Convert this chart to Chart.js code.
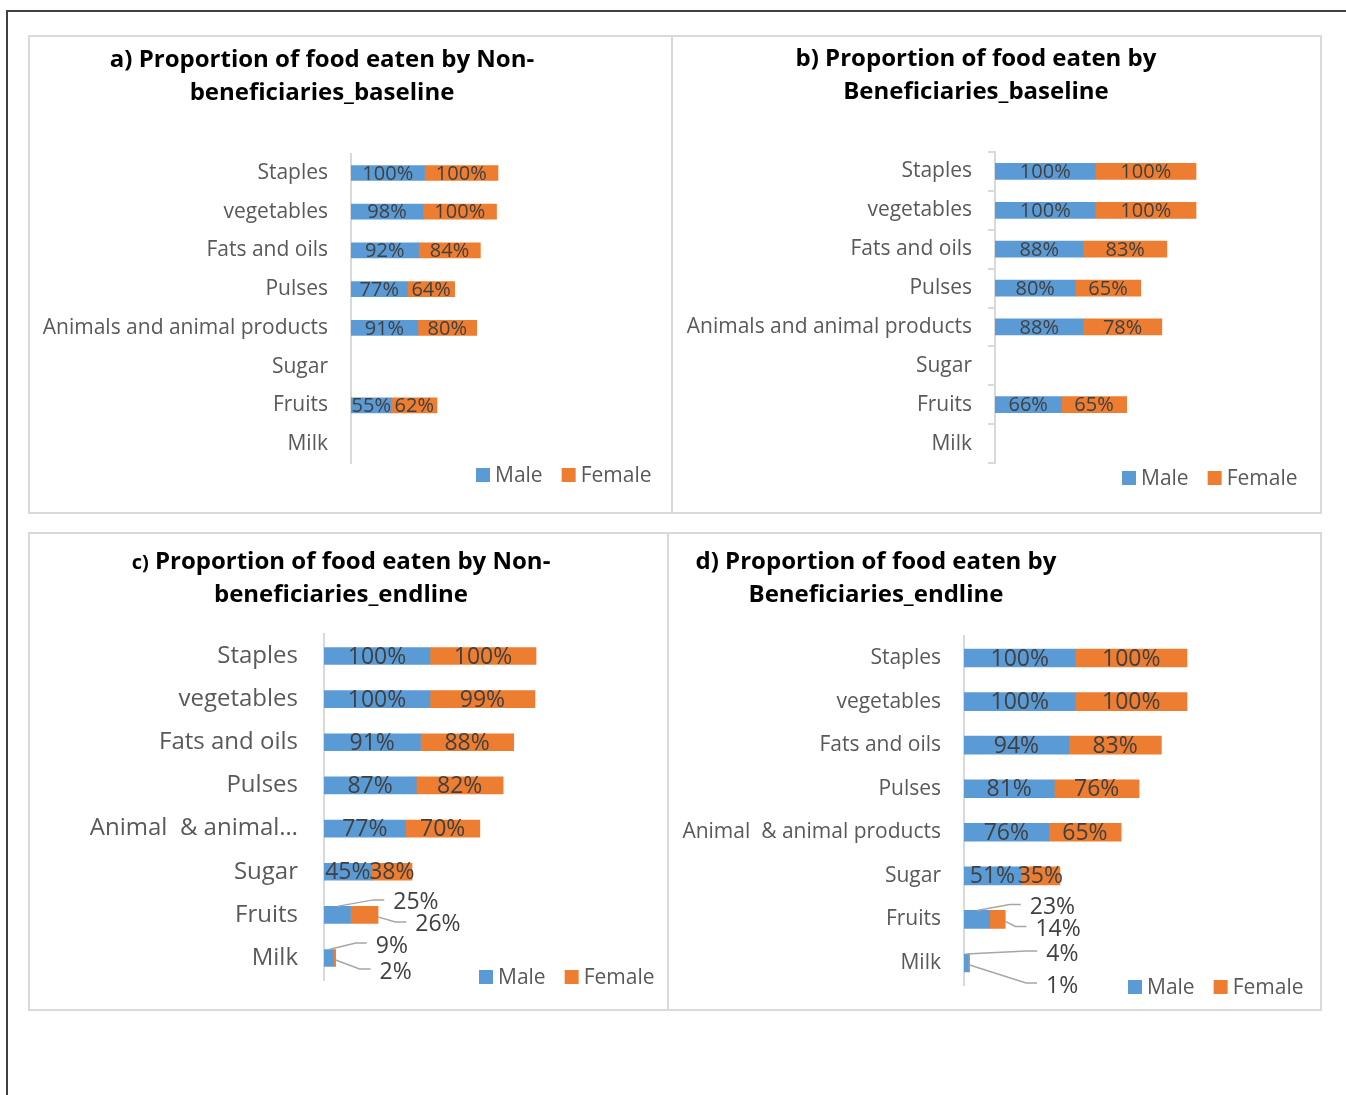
<!DOCTYPE html>
<html>
<head>
<meta charset="utf-8">
<script src="https://cdn.jsdelivr.net/npm/chart.js@4.4.0/dist/chart.umd.min.js"></script>
<style>
    body { margin: 0; background: #fff; font-family: 'Open Sans', sans-serif; }
    #page { position: relative; width: 1346px; height: 1095px; overflow: hidden; }
    .frame-top { position: absolute; left: 6px; top: 10px; width: 1340px; height: 2px; background: #404040; }
    .frame-left { position: absolute; left: 6px; top: 10px; width: 2px; height: 1085px; background: #404040; }
    .panel { position: absolute; border: 2px solid #d9d9d9; box-sizing: border-box; }
    canvas { position: absolute; }
    .title { position: absolute; font-weight: 700; font-size: 24px; line-height: 33px; color: #000;
             text-align: center; white-space: nowrap; transform: translateX(-50%); }
    .small { font-size: 20px; line-height: 0; }
</style>
</head>
<body>
<div id="page">
    <div class="frame-top"></div>
    <div class="frame-left"></div>

    <div class="panel" style="left:28px;top:35px;width:645px;height:479px"></div>
    <div class="panel" style="left:671px;top:35px;width:651px;height:479px"></div>
    <div class="panel" style="left:28px;top:532px;width:641px;height:479px"></div>
    <div class="panel" style="left:667px;top:532px;width:655px;height:479px"></div>

    <canvas id="chartA" width="641" height="475" style="left:30px;top:37px"></canvas>
    <canvas id="chartB" width="647" height="475" style="left:673px;top:37px"></canvas>
    <canvas id="chartC" width="637" height="475" style="left:30px;top:534px"></canvas>
    <canvas id="chartD" width="651" height="475" style="left:669px;top:534px"></canvas>

    <div class="title" style="left:322px;top:41px">a) Proportion of food eaten by Non-<br>beneficiaries_baseline</div>
    <div class="title" style="left:976px;top:40px">b) Proportion of food eaten by<br>Beneficiaries_baseline</div>
    <div class="title" style="left:341px;top:543px"><span class="small">c)</span> Proportion of food eaten by Non-<br>beneficiaries_endline</div>
    <div class="title" style="left:876px;top:543px">d) Proportion of food eaten by<br>Beneficiaries_endline</div>
</div>

<script>
    const categoriesAB = ['Staples', 'vegetables', 'Fats and oils', 'Pulses', 'Animals and animal products', 'Sugar', 'Fruits', 'Milk'];
    const categoriesC = ['Staples', 'vegetables', 'Fats and oils', 'Pulses', 'Animal  & animal\u2026', 'Sugar', 'Fruits', 'Milk'];
    const categoriesD = ['Staples', 'vegetables', 'Fats and oils', 'Pulses', 'Animal  & animal products', 'Sugar', 'Fruits', 'Milk'];

    const maleA = [100, 98, 92, 77, 91, null, 55, null];
    const femaleA = [100, 100, 84, 64, 80, null, 62, null];

    const maleB = [100, 100, 88, 80, 88, null, 66, null];
    const femaleB = [100, 100, 83, 65, 78, null, 65, null];

    const maleC = [100, 100, 91, 87, 77, 45, 25, 9];
    const femaleC = [100, 99, 88, 82, 70, 38, 26, 2];

    const maleD = [100, 100, 94, 81, 76, 51, 23, 4];
    const femaleD = [100, 100, 83, 76, 65, 35, 14, 1];

    const seriesNames = ['Male', 'Female'];
    const seriesColors = ['#5b9bd5', '#ed7d31'];

    // labels for the small bars sit outside with a leader line
    const calloutsC = [
        { ds: 0, i: 6, dx: 56, dy: -13 },
        { ds: 1, i: 6, dx: 51, dy: 9 },
        { ds: 0, i: 7, dx: 47, dy: -13 },
        { ds: 1, i: 7, dx: 45, dy: 13 }
    ];
    const calloutsD = [
        { ds: 0, i: 6, dx: 53, dy: -13 },
        { ds: 1, i: 6, dx: 38, dy: 9 },
        { ds: 0, i: 7, dx: 80, dy: -10 },
        { ds: 1, i: 7, dx: 77, dy: 22 }
    ];

    const barLabels = {
        id: 'barLabels',
        afterDatasetsDraw: function(chart, args, opts) {
            const ctx = chart.ctx;
            ctx.save();
            ctx.font = opts.size + 'px "Open Sans"';
            ctx.fillStyle = '#404040';
            ctx.textBaseline = 'middle';
            chart.data.datasets.forEach(function(ds, d) {
                chart.getDatasetMeta(d).data.forEach(function(el, i) {
                    const v = ds.data[i];
                    if (v === null || v === undefined) return;
                    const cx = (el.x + el.base) / 2;
                    const call = (opts.callouts || []).find(function(c) { return c.ds === d && c.i === i; });
                    if (!call) {
                        ctx.textAlign = 'center';
                        ctx.fillText(v + '%', cx, el.y + 1);
                        return;
                    }
                    const lx = cx + call.dx;
                    const ly = el.y + call.dy;
                    let sx, sy;
                    if (call.dy < 0) {
                        sx = cx; sy = el.y - el.height / 2;
                    } else {
                        sx = el.x; sy = el.y + 2;
                    }
                    ctx.strokeStyle = '#a6a6a6';
                    ctx.lineWidth = 1.5;
                    ctx.beginPath();
                    ctx.moveTo(sx, sy);
                    ctx.lineTo(lx - 20, ly - 2);
                    ctx.lineTo(lx - 9, ly - 2);
                    ctx.stroke();
                    ctx.textAlign = 'left';
                    ctx.fillText(v + '%', lx, ly + 1);
                });
            });
            ctx.restore();
        }
    };

    const boxLegend = {
        id: 'boxLegend',
        afterDraw: function(chart, args, opts) {
            const ctx = chart.ctx;
            ctx.save();
            ctx.font = opts.size + 'px "Open Sans"';
            ctx.textBaseline = 'middle';
            ctx.textAlign = 'left';
            let x = opts.x;
            chart.data.datasets.forEach(function(ds) {
                ctx.fillStyle = ds.backgroundColor;
                ctx.fillRect(x, opts.y - 7, 14, 14);
                ctx.fillStyle = '#595959';
                ctx.fillText(ds.label, x + 19, opts.y + 1);
                x += 19 + ctx.measureText(ds.label).width + 19;
            });
            ctx.restore();
        }
    };

    function makeChart(id, labels, male, female, cfg) {
        const ctx = document.getElementById(id);
        const showTicks = cfg.ticks === true;
        return new Chart(ctx, {
            type: 'bar',
            data: {
                labels: labels,
                datasets: [male, female].map(function(values, k) {
                    return {
                        label: seriesNames[k],
                        data: values,
                        backgroundColor: seriesColors[k],
                        barThickness: cfg.bar
                    };
                })
            },
            options: {
                indexAxis: 'y',
                responsive: false,
                animation: false,
                layout: { padding: cfg.pad },
                plugins: {
                    legend: { display: false },
                    tooltip: { enabled: false },
                    barLabels: { size: cfg.valueSize, callouts: cfg.callouts },
                    boxLegend: { x: cfg.legendX, y: cfg.legendY, size: cfg.legendSize }
                },
                scales: {
                    x: { stacked: true, display: false, min: 0, max: cfg.max },
                    y: {
                        stacked: true,
                        afterFit: function(scale) {
                            scale.width = cfg.axisW;
                            scale.paddingTop = 0;
                            scale.paddingBottom = 0;
                        },
                        grid: {
                            display: showTicks,
                            drawOnChartArea: false,
                            drawTicks: showTicks,
                            tickLength: 7,
                            color: '#d9d9d9',
                            lineWidth: 2
                        },
                        border: { display: true, color: '#d9d9d9', width: 2 },
                        ticks: {
                            color: '#595959',
                            autoSkip: false,
                            padding: cfg.tickPad,
                            font: { family: 'Open Sans', size: cfg.tickSize }
                        }
                    }
                }
            },
            plugins: [barLabels, boxLegend]
        });
    }

    makeChart('chartA', categoriesAB, maleA, femaleA, {
        bar: 15, max: 400, axisW: 321, tickPad: 23, tickSize: 21, valueSize: 20,
        pad: { left: 0, top: 116.6, bottom: 48.6, right: 26 },
        legendX: 446, legendY: 438, legendSize: 21
    });

    makeChart('chartB', categoriesAB, maleB, femaleB, {
        bar: 16, max: 300, axisW: 322, tickPad: 16, tickSize: 21, valueSize: 20, ticks: true,
        pad: { left: 0, top: 115, bottom: 49, right: 23.5 },
        legendX: 449, legendY: 441, legendSize: 21
    });

    makeChart('chartC', categoriesC, maleC, femaleC, {
        bar: 17, max: 300, axisW: 294, tickPad: 26, tickSize: 24, valueSize: 23, callouts: calloutsC,
        pad: { left: 0, top: 100.4, bottom: 29.4, right: 25 },
        legendX: 449, legendY: 443, legendSize: 21
    });

    makeChart('chartD', categoriesD, maleD, femaleD, {
        bar: 18, max: 300, axisW: 295, tickPad: 23, tickSize: 21, valueSize: 23, callouts: calloutsD,
        pad: { left: 0, top: 102.2, bottom: 24.2, right: 21.5 },
        legendX: 459, legendY: 453, legendSize: 21
    });
</script>
</body>
</html>
